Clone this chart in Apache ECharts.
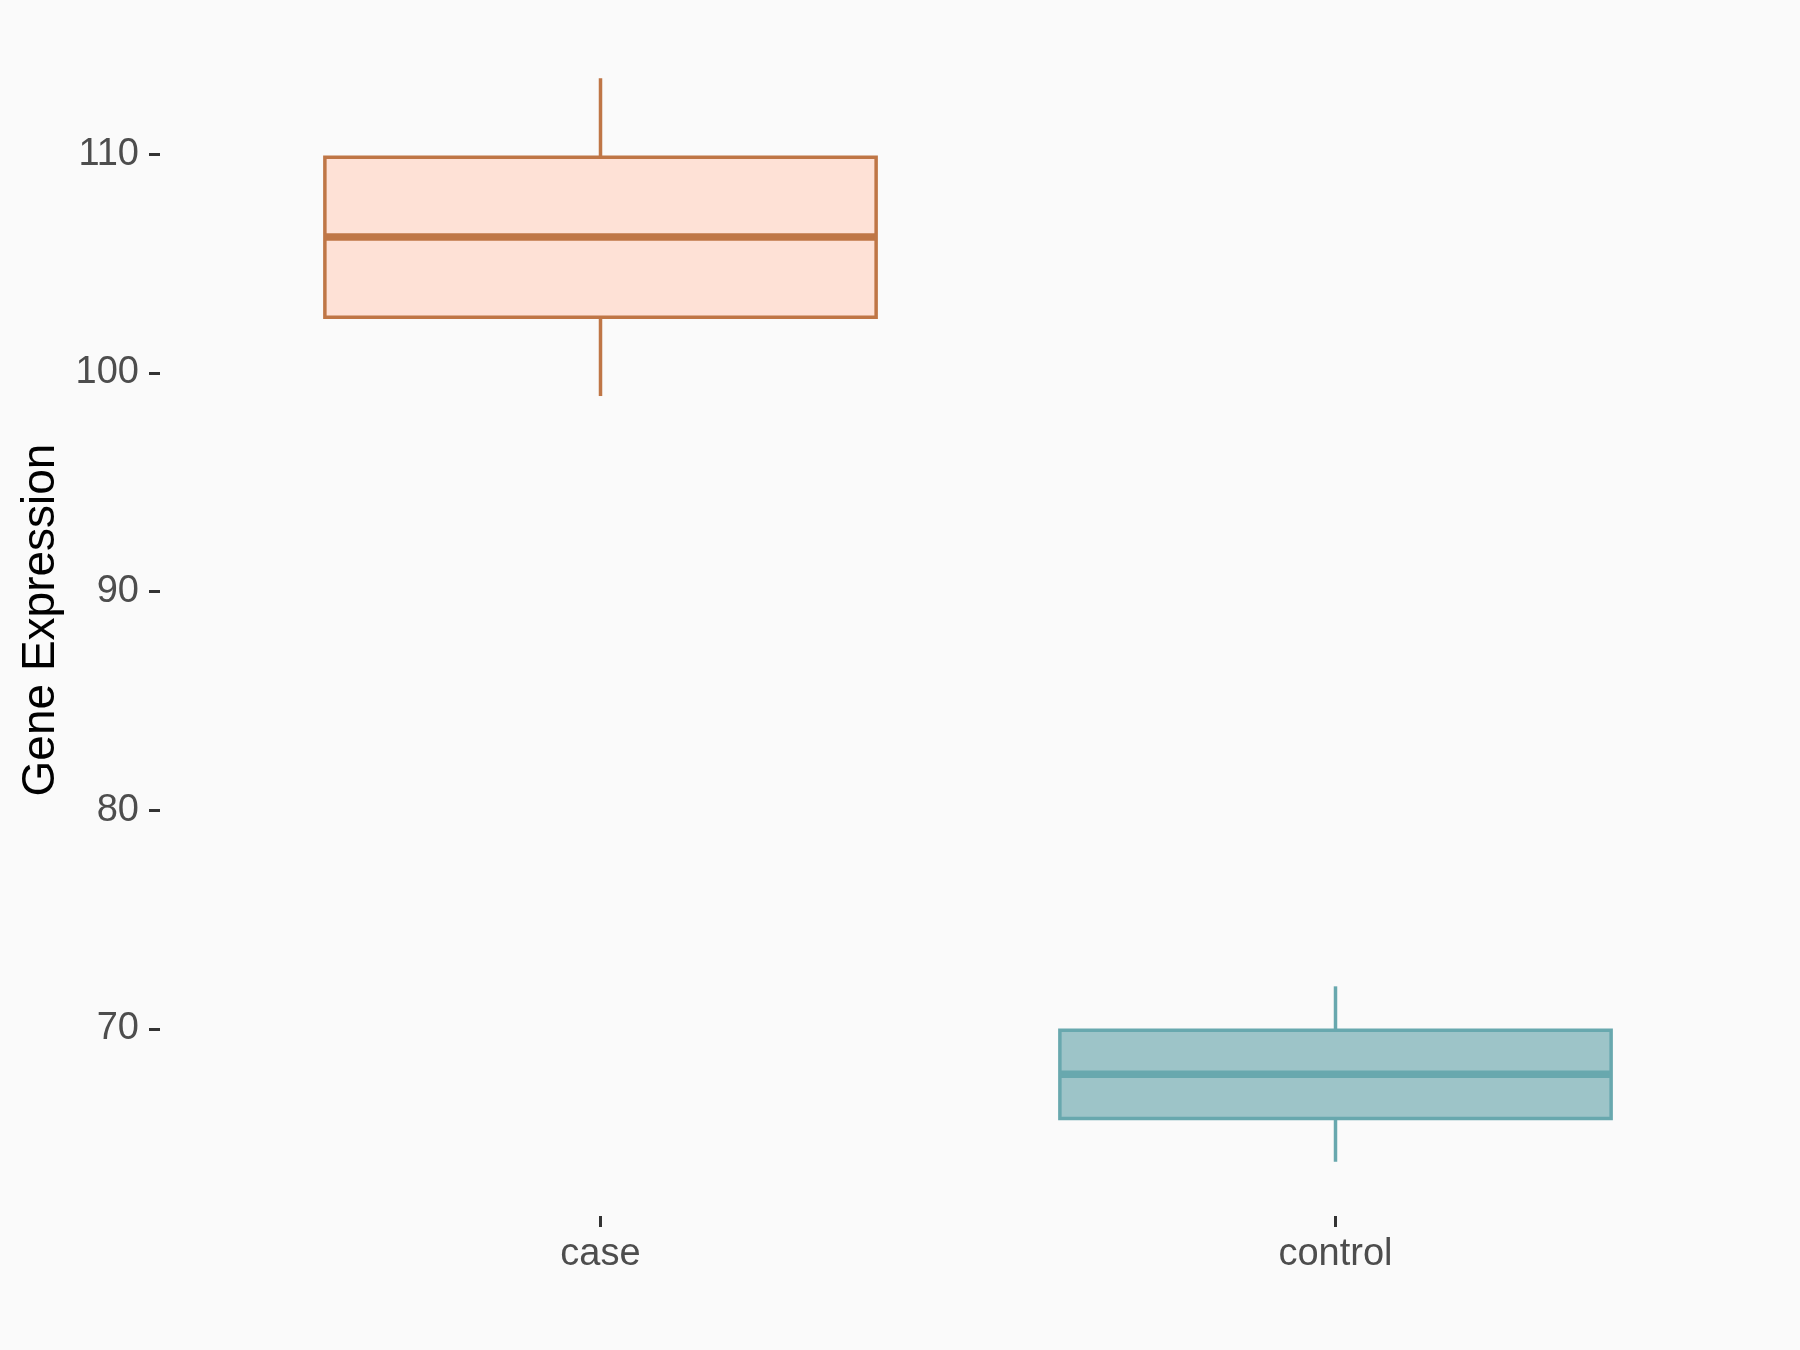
<!DOCTYPE html>
<html>
<head>
<meta charset="utf-8">
<script src="https://cdn.jsdelivr.net/npm/echarts@6/dist/echarts.min.js"></script>
<style>
html,body{margin:0;padding:0;background:#FAFAFA;}
#chart{width:1800px;height:1350px;}
</style>
</head>
<body>
<div id="chart"></div>
<script>
const categories = ['case', 'control'];
const lowerWhisker = [98.94, 63.93];
const q1 = [102.54, 65.91];
const median = [106.21, 67.93];
const q3 = [109.86, 69.94];
const upperWhisker = [113.47, 71.95];
const yTicks = [70, 80, 90, 100, 110];

const fills = ['#FEE1D6', '#9DC4C8'];
const strokes = ['#BF7646', '#68A8AE'];

const data = categories.map((c, i) => [i, lowerWhisker[i], q1[i], median[i], q3[i], upperWhisker[i]]);

const chart = echarts.init(document.getElementById('chart'));
const FONT = '"Liberation Sans", Arial, sans-serif';

chart.setOption({
  backgroundColor: '#FAFAFA',
  animation: false,
  grid: { left: 233, right: 97, top: 24, bottom: 134, containLabel: false },
  xAxis: {
    type: 'category',
    data: categories,
    axisLine: { show: false },
    axisTick: { show: true, alignWithLabel: true, length: 11, lineStyle: { color: '#333333', width: 3 } },
    axisLabel: { margin: 20, fontSize: 38, color: '#4D4D4D', fontFamily: FONT },
    splitLine: { show: false }
  },
  yAxis: {
    type: 'value',
    min: 61.45,
    max: 115.95,
    offset: 73,
    axisLine: { show: false },
    axisTick: { show: true, length: 11, lineStyle: { color: '#333333', width: 3 }, customValues: yTicks },
    axisLabel: { margin: 21, fontSize: 38, color: '#4D4D4D', fontFamily: FONT, customValues: yTicks },
    splitLine: { show: false },
    name: 'Gene Expression',
    nameLocation: 'middle',
    nameRotate: 90,
    nameGap: 93,
    nameTextStyle: { fontSize: 46, color: '#000000', fontFamily: FONT }
  },
  series: [{
    type: 'custom',
    data: data,
    encode: { x: 0, y: [1, 2, 3, 4, 5] },
    renderItem: function (params, api) {
      const idx = api.value(0);
      const band = api.size([1, 0])[0];
      const hw = band * 0.375;
      const pLo = api.coord([idx, api.value(1)]);
      const pQ1 = api.coord([idx, api.value(2)]);
      const pMed = api.coord([idx, api.value(3)]);
      const pQ3 = api.coord([idx, api.value(4)]);
      const pHi = api.coord([idx, api.value(5)]);
      const cx = pQ1[0];
      const st = strokes[idx], fl = fills[idx];
      return {
        type: 'group',
        children: [
          { type: 'line', shape: { x1: cx, y1: pHi[1], x2: cx, y2: pQ3[1] }, style: { stroke: st, lineWidth: 3.5 } },
          { type: 'line', shape: { x1: cx, y1: pQ1[1], x2: cx, y2: pLo[1] }, style: { stroke: st, lineWidth: 3.5 } },
          { type: 'rect', shape: { x: cx - hw, y: pQ3[1], width: hw * 2, height: pQ1[1] - pQ3[1] }, style: { fill: fl, stroke: st, lineWidth: 3.5 } },
          { type: 'line', shape: { x1: cx - hw, y1: pMed[1], x2: cx + hw, y2: pMed[1] }, style: { stroke: st, lineWidth: 7.5 } }
        ]
      };
    }
  }]
});
</script>
</body>
</html>
